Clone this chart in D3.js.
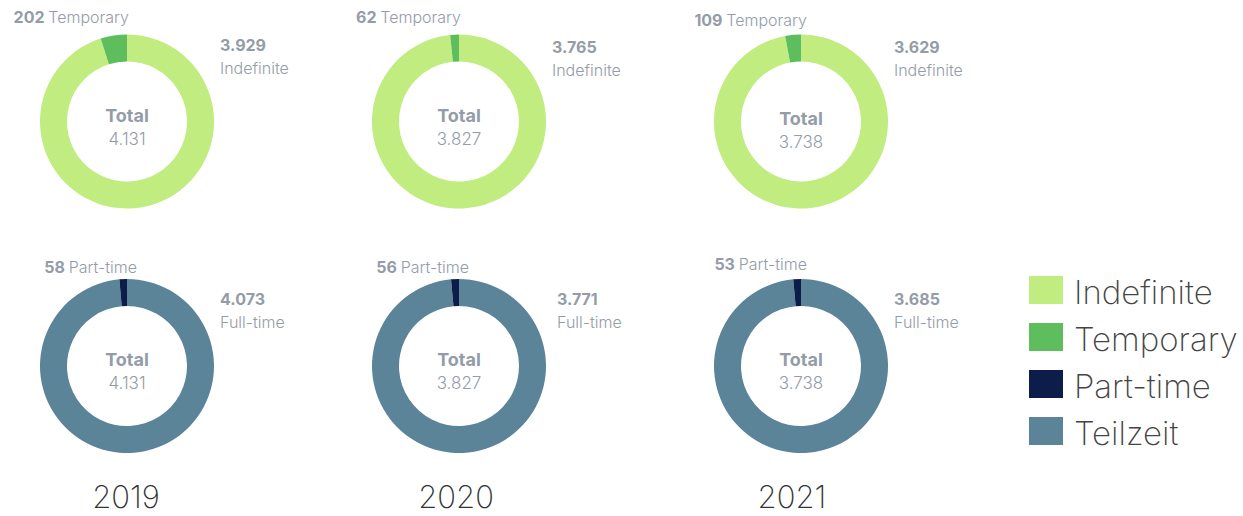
<!DOCTYPE html>
<html>
<head>
<meta charset="utf-8">
<script src="https://cdn.jsdelivr.net/npm/d3@7"></script>
<style>
	body { margin: 0; background: #fff; }
	svg { display: block; font-family: "Inter", "Roboto", "Liberation Sans", sans-serif; }
	.lbl { fill: #949ca8; font-size: 16px; font-weight: 300; }
	.num { fill: #949ca8; font-size: 16px; font-weight: 700; }
	.year { fill: #333; font-size: 31px; font-weight: 200; }
	.legend text { fill: #444; font-size: 33px; font-weight: 200; }
</style>
</head>
<body>
<div id="chart"></div>
<script>
//=======================================================================================================================
//Data
//=======================================================================================================================
var years = ["2019", "2020", "2021"];
var indefinite = [3929, 3765, 3629];
var temporary = [202, 62, 109];
var fullTime = [4073, 3771, 3685];
var partTime = [58, 56, 53];
var totals = [4131, 3827, 3738];

var legendLabels = ["Indefinite", "Temporary", "Part-time", "Teilzeit"];
var legendColors = ["#c0ec80", "#5ebe5e", "#0c1d4b", "#5b8499"];

//=======================================================================================================================
//Setup
//=======================================================================================================================
var width = 1243, height = 516;
var outerR = 87, innerR = 60;

var fmt = d3.formatLocale({ decimal: ",", thousands: ".", grouping: [3], currency: ["", ""] }).format(",d");

var color = d3.scaleOrdinal().domain(legendLabels).range(legendColors);

// column centres and row centres
var x = d3.scaleOrdinal().domain(years).range([127, 459, 801]);
var rowY = [121.5, 366];

var svg = d3.select("#chart").append("svg")
	.attr("width", width)
	.attr("height", height);

var pie = d3.pie().sort(null).value(function (d) { return d.value; });
var arc = d3.arc().innerRadius(innerR).outerRadius(outerR);

// one row of donuts
function drawRow(row, bigVals, smallVals, bigName, smallName, bigColor, smallColor) {
	years.forEach(function (yr, i) {
		var cx = x(yr), cy = rowY[row];
		var dy = (row === 0 && i === 2) ? 3 : 0; // 2021 labels sit a little lower in the top row
		var g = svg.append("g").attr("transform", "translate(" + cx + "," + cy + ")");

		var slices = [
			{ name: bigName, value: bigVals[i], c: bigColor },
			{ name: smallName, value: smallVals[i], c: smallColor }
		];
		g.selectAll("path")
			.data(pie(slices))
			.enter().append("path")
			.attr("d", arc)
			.style("fill", function (d) { return color(d.data.c); });

		// centre
		g.append("text").attr("class", "num").attr("text-anchor", "middle")
			.attr("y", 0 + dy).style("font-size", "18px").text("Total");
		g.append("text").attr("class", "lbl").attr("text-anchor", "middle")
			.attr("y", 23 + dy).style("font-size", "17px").text(fmt(totals[i]));

		// small slice label, above the donut
		var endX = row === 0 ? (i === 2 ? 6 : 2) : (i === 2 ? 6 : 10);
		var t = g.append("text").attr("text-anchor", "end")
			.attr("x", endX).attr("y", (row === 0 ? -99 : -93) + dy + (row === 1 && i === 2 ? -3 : 0));
		t.append("tspan").attr("class", "num").text(fmt(smallVals[i]) + " ");
		t.append("tspan").attr("class", "lbl").text(smallName);

		// big slice label, to the right
		var offY = row === 0 ? -71 : -61;
		var offX = (row === 1 && i === 1) ? 98 : 93;
		var shift = (row === 0 && i > 0) ? 2 : 0;
		g.append("text").attr("class", "num").attr("x", offX).attr("y", offY + shift)
			.text(fmt(bigVals[i]));
		g.append("text").attr("class", "lbl").attr("x", offX).attr("y", offY + 23 + shift)
			.text(bigName);
	});
}

drawRow(0, indefinite, temporary, "Indefinite", "Temporary", "Indefinite", "Temporary");
drawRow(1, fullTime, partTime, "Full-time", "Part-time", "Teilzeit", "Part-time");

//=======================================================================================================================
//Years
//=======================================================================================================================
var yearX = d3.scaleOrdinal().domain(years).range([126, 456, 792]);

svg.selectAll(".year")
	.data(years)
	.enter().append("text")
	.attr("class", "year")
	.attr("text-anchor", "middle")
	.attr("x", function (d) { return yearX(d); })
	.attr("y", 508)
	.text(function (d) { return d; });

//=======================================================================================================================
//Legend
//=======================================================================================================================
var legend = svg.append("g").attr("class", "legend")
	.attr("transform", "translate(1029,276)");

var item = legend.selectAll("g")
	.data(legendLabels)
	.enter().append("g")
	.attr("transform", function (d, i) { return "translate(0," + (i * 47) + ")"; });

item.append("rect")
	.attr("width", 34)
	.attr("height", 28)
	.style("fill", function (d) { return color(d); });

item.append("text")
	.attr("x", 45)
	.attr("y", 28)
	.text(function (d) { return d; });
</script>
</body>
</html>
